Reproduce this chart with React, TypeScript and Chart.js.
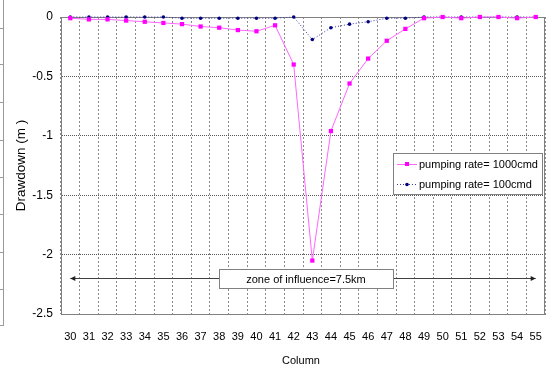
import React, { useEffect, useRef } from 'react';
import { Chart, registerables } from 'chart.js';

Chart.register(...registerables);

const columns = ['30','31','32','33','34','35','36','37','38','39','40','41','42','43','44','45','46','47','48','49','50','51','52','53','54','55'];
const rate1000 = [-0.01,-0.02,-0.02,-0.03,-0.04,-0.05,-0.06,-0.08,-0.09,-0.11,-0.12,-0.07,-0.40,-2.05,-0.96,-0.56,-0.35,-0.20,-0.10,-0.01,0,-0.01,0,0,-0.01,0];
const rate100 = [0,0,0,0,0,0,-0.01,-0.01,-0.01,-0.01,-0.01,-0.01,0,-0.19,-0.09,-0.06,-0.04,-0.01,-0.01,0,0,0,0,0,0,0];
const seriesLabels = ['pumping rate= 1000cmd', 'pumping rate= 100cmd'];
const yMin = -2.5;
const yMax = 0;
const yStep = 0.5;
const yTitle = 'Drawdown (m )';
const xTitle = 'Column';
const zoneLabel = 'zone of influence=7.5km';
const zoneFrom = 0;
const zoneTo = 25;
const zoneY = -2.2;

const FONT = "'Liberation Sans', Arial, sans-serif";

const decor = {
  id: 'decor',
  beforeDatasetsDraw(chart: any) {
    const { ctx, chartArea: a, scales } = chart;
    const xs = scales.x;
    const ys = scales.y;
    ctx.save();
    // plot border (top/right)
    ctx.strokeStyle = '#808080';
    ctx.lineWidth = 1;
    ctx.setLineDash([]);
    ctx.beginPath();
    ctx.moveTo(a.left, Math.round(a.top) + 0.5);
    ctx.lineTo(a.right, Math.round(a.top) + 0.5);
    ctx.moveTo(Math.round(a.right) - 0.5, a.top);
    ctx.lineTo(Math.round(a.right) - 0.5, a.bottom);
    ctx.stroke();

    // zone arrow
    const x1 = xs.getPixelForValue(zoneFrom);
    const x2 = xs.getPixelForValue(zoneTo);
    const y = Math.round(ys.getPixelForValue(zoneY)) + 0.5;
    ctx.strokeStyle = '#404040';
    ctx.fillStyle = '#202020';
    ctx.beginPath();
    ctx.moveTo(x1, y);
    ctx.lineTo(x2, y);
    ctx.stroke();
    ctx.beginPath();
    ctx.moveTo(x1, y);
    ctx.lineTo(x1 + 5, y - 2.5);
    ctx.lineTo(x1 + 5, y + 2.5);
    ctx.closePath();
    ctx.fill();
    ctx.beginPath();
    ctx.moveTo(x2, y);
    ctx.lineTo(x2 - 5, y - 2.5);
    ctx.lineTo(x2 - 5, y + 2.5);
    ctx.closePath();
    ctx.fill();

    // zone label box
    ctx.font = `11px ${FONT}`;
    const bw = 174;
    const bh = 19;
    const cx = (x1 + x2) / 2 + 3;
    const bx = Math.round(cx - bw / 2) + 0.5;
    const by = Math.round(y - bh / 2);
    ctx.fillStyle = '#ffffff';
    ctx.fillRect(bx, by, bw, bh);
    ctx.strokeStyle = '#808080';
    ctx.strokeRect(bx, by + 0.5, bw, bh);
    ctx.fillStyle = '#000';
    ctx.textAlign = 'center';
    ctx.textBaseline = 'middle';
    ctx.fillText(zoneLabel, cx, by + bh / 2 + 1);
    ctx.restore();
  },
  afterDatasetsDraw(chart: any) {
    const { ctx, chartArea: a } = chart;
    ctx.save();
    // legend
    const lx = 393.5, ly = 153.5, lw = 149, lh = 41;
    ctx.fillStyle = '#fff';
    ctx.fillRect(lx, ly, lw, lh);
    ctx.strokeStyle = '#808080';
    ctx.lineWidth = 1;
    ctx.strokeRect(lx, ly, lw, lh);
    ctx.font = `11px ${FONT}`;
    ctx.textAlign = 'left';
    ctx.textBaseline = 'middle';
    // row 1
    let ry = 164.5;
    ctx.strokeStyle = '#ff66ff';
    ctx.beginPath();
    ctx.moveTo(397, ry);
    ctx.lineTo(417, ry);
    ctx.stroke();
    ctx.fillStyle = '#ff00ff';
    ctx.fillRect(405, ry - 2.5, 4, 4);
    ctx.fillStyle = '#000';
    ctx.fillText(seriesLabels[0], 419, ry + 0.5);
    // row 2
    ry = 184.5;
    ctx.strokeStyle = '#3333aa';
    ctx.setLineDash([1, 2]);
    ctx.beginPath();
    ctx.moveTo(397, ry);
    ctx.lineTo(417, ry);
    ctx.stroke();
    ctx.setLineDash([]);
    ctx.fillStyle = '#000080';
    ctx.beginPath();
    ctx.arc(407, ry, 1.8, 0, Math.PI * 2);
    ctx.fill();
    ctx.fillStyle = '#000';
    ctx.fillText(seriesLabels[1], 419, ry + 0.5);

    // axis titles
    ctx.textAlign = 'center';
    ctx.textBaseline = 'middle';
    ctx.font = `11px ${FONT}`;
    ctx.fillText(xTitle, (a.left + a.right) / 2 - 2, 361);
    ctx.save();
    ctx.translate(21, (a.top + a.bottom) / 2);
    ctx.rotate(-Math.PI / 2);
    ctx.font = `13.5px ${FONT}`;
    ctx.fillText(yTitle, 0, 0);
    ctx.restore();

    // cropped neighbour axis at far left
    ctx.strokeStyle = '#9a9a9a';
    ctx.beginPath();
    ctx.moveTo(3.5, 0);
    ctx.lineTo(3.5, 325);
    const marks = [28, 64, 102, 140, 177, 214, 252, 289, 325];
    marks.forEach((m) => {
      ctx.moveTo(0, m + 0.5);
      ctx.lineTo(4, m + 0.5);
    });
    ctx.stroke();
    ctx.restore();
  },
};

export default function App() {
  const ref = useRef<HTMLCanvasElement | null>(null);
  useEffect(() => {
    if (!ref.current) return;
    const chart = new Chart(ref.current, {
      type: 'line',
      data: {
        labels: columns,
        datasets: [
          {
            label: seriesLabels[0],
            data: rate1000,
            borderColor: '#ff66ff',
            borderWidth: 1,
            pointStyle: 'rect',
            pointRadius: 3,
            pointBorderWidth: 0,
            pointBackgroundColor: '#ff00ff',
            pointBorderColor: '#ff00ff',
            tension: 0,
            clip: false,
          },
          {
            label: seriesLabels[1],
            data: rate100,
            borderColor: '#3333aa',
            borderWidth: 1,
            borderDash: [1, 2],
            pointStyle: 'circle',
            pointRadius: 1.8,
            pointBorderWidth: 0,
            pointBackgroundColor: '#000080',
            pointBorderColor: '#000080',
            tension: 0,
            clip: false,
          },
        ],
      },
      options: {
        responsive: false,
        animation: false,
        devicePixelRatio: 1,
        layout: { padding: { top: 17, right: 9, left: 0, bottom: 0 } },
        plugins: { legend: { display: false }, tooltip: { enabled: false } },
        scales: {
          x: {
            type: 'category',
            offset: true,
            grid: { offset: true, color: '#8a8a8a', drawTicks: false, tickLength: 0 },
            border: { display: true, color: '#808080', dash: [2, 2] },
            ticks: { font: { family: FONT, size: 11 }, color: '#000', padding: 16, autoSkip: false, maxRotation: 0 },
            afterFit(s: any) { s.height = 58; },
          },
          y: {
            min: yMin,
            max: yMax,
            grid: { color: '#555', drawTicks: false, tickLength: 0 },
            border: { display: true, color: '#808080', dash: [1, 1] },
            ticks: {
              stepSize: yStep,
              font: { family: FONT, size: 12 },
              color: '#000',
              padding: 8,
              callback: (v: any) => String(Math.round(Number(v) * 10) / 10),
            },
            afterFit(s: any) { s.width = 61; },
          },
        },
      },
      plugins: [decor],
    });
    return () => chart.destroy();
  }, []);
  return (
    <div style={{ position: 'absolute', left: 0, top: 0, width: 558, height: 372, background: '#fff' }}>
      <canvas ref={ref} width={558} height={372} />
    </div>
  );
}
